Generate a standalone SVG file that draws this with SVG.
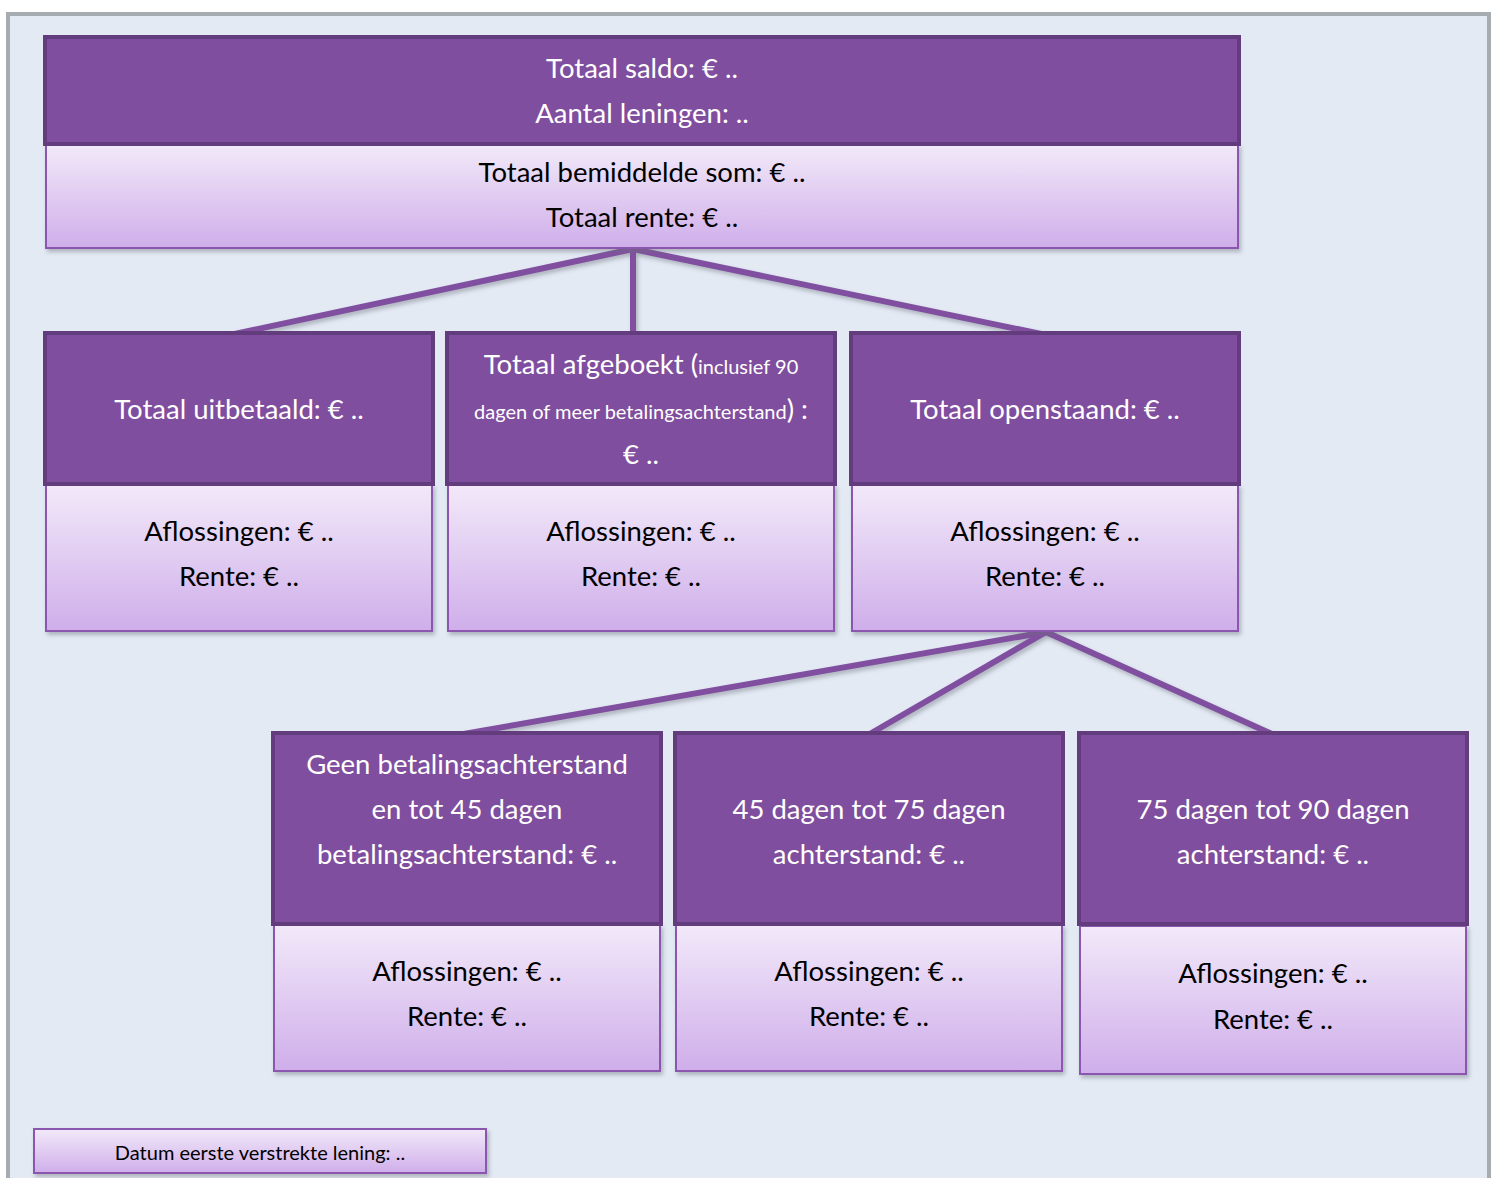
<svg xmlns="http://www.w3.org/2000/svg" width="1492" height="1178" viewBox="0 0 1492 1178">
<defs>
<linearGradient id="lg" x1="0" y1="0" x2="0" y2="1">
<stop offset="0" stop-color="#f2e9f9"/>
<stop offset="1" stop-color="#cfaeea"/>
</linearGradient>
<filter id="sh" x="-5%" y="-5%" width="110%" height="120%">
<feDropShadow dx="2" dy="3" stdDeviation="2" flood-color="#6b6f78" flood-opacity="0.45"/>
</filter>
<style>
.dk{fill:#804e9e;stroke:#633c7d;stroke-width:4}
.lt{fill:url(#lg);stroke:#8b56ae;stroke-width:2}
.tw{fill:#ffffff;font-family:Lato,"Open Sans",sans-serif;font-size:27.5px;text-anchor:middle}
.tb{fill:#000000;font-family:Lato,"Open Sans",sans-serif;font-size:27.5px;text-anchor:middle}
.sm{font-size:20px}
.con{stroke:#8150a0;stroke-width:6;fill:none;stroke-linecap:butt}
</style>
</defs>
<rect x="8" y="14" width="1481" height="1200" fill="#e3eaf4" stroke="#a7acb1" stroke-width="4"/>
<g id="connectors" filter="url(#sh)">
<line class="con" x1="633" y1="249" x2="230" y2="335"/>
<line class="con" x1="633" y1="249" x2="633" y2="333"/>
<line class="con" x1="633" y1="249" x2="1046" y2="335"/>
<line class="con" x1="1046" y1="632" x2="458" y2="735"/>
<line class="con" x1="1046" y1="632" x2="868" y2="735"/>
<line class="con" x1="1046" y1="632" x2="1274" y2="735"/>
</g>
<g id="top">
<rect class="lt" x="46" y="145" width="1192" height="103" filter="url(#sh)"/>
<rect class="dk" x="45" y="37" width="1194" height="107"/>
<text class="tw" x="642" y="78">Totaal saldo: € ..</text>
<text class="tw" x="642" y="123">Aantal leningen: ..</text>
<text class="tb" x="642" y="182">Totaal bemiddelde som: € ..</text>
<text class="tb" x="642" y="227">Totaal rente: € ..</text>
</g>
<g id="uitbetaald">
<rect class="lt" x="46" y="485" width="386" height="146" filter="url(#sh)"/>
<rect class="dk" x="45" y="333" width="388" height="151"/>
<text class="tw" x="239" y="419">Totaal uitbetaald: € ..</text>
<text class="tb" x="239" y="541">Aflossingen: € ..</text>
<text class="tb" x="239" y="586">Rente: € ..</text>
</g>
<g id="afgeboekt">
<rect class="lt" x="448" y="485" width="386" height="146" filter="url(#sh)"/>
<rect class="dk" x="447" y="333" width="388" height="151"/>
<text class="tw" x="641" y="374">Totaal afgeboekt (<tspan class="sm">inclusief 90</tspan></text>
<text class="tw" x="641" y="419"><tspan class="sm">dagen of meer betalingsachterstand</tspan>) :</text>
<text class="tw" x="641" y="464">€ ..</text>
<text class="tb" x="641" y="541">Aflossingen: € ..</text>
<text class="tb" x="641" y="586">Rente: € ..</text>
</g>
<g id="openstaand">
<rect class="lt" x="852" y="485" width="386" height="146" filter="url(#sh)"/>
<rect class="dk" x="851" y="333" width="388" height="151"/>
<text class="tw" x="1045" y="419">Totaal openstaand: € ..</text>
<text class="tb" x="1045" y="541">Aflossingen: € ..</text>
<text class="tb" x="1045" y="586">Rente: € ..</text>
</g>
<g id="geen">
<rect class="lt" x="274" y="925" width="386" height="146" filter="url(#sh)"/>
<rect class="dk" x="273" y="733" width="388" height="191"/>
<text class="tw" x="467" y="774">Geen betalingsachterstand</text>
<text class="tw" x="467" y="819">en tot 45 dagen</text>
<text class="tw" x="467" y="864">betalingsachterstand: € ..</text>
<text class="tb" x="467" y="981">Aflossingen: € ..</text>
<text class="tb" x="467" y="1026">Rente: € ..</text>
</g>
<g id="d45">
<rect class="lt" x="676" y="925" width="386" height="146" filter="url(#sh)"/>
<rect class="dk" x="675" y="733" width="388" height="191"/>
<text class="tw" x="869" y="819">45 dagen tot 75 dagen</text>
<text class="tw" x="869" y="864">achterstand: € ..</text>
<text class="tb" x="869" y="981">Aflossingen: € ..</text>
<text class="tb" x="869" y="1026">Rente: € ..</text>
</g>
<g id="d75">
<rect class="lt" x="1080" y="926" width="386" height="148" filter="url(#sh)"/>
<rect class="dk" x="1079" y="733" width="388" height="191"/>
<text class="tw" x="1273" y="819">75 dagen tot 90 dagen</text>
<text class="tw" x="1273" y="864">achterstand: € ..</text>
<text class="tb" x="1273" y="983">Aflossingen: € ..</text>
<text class="tb" x="1273" y="1029">Rente: € ..</text>
</g>
<g id="datum">
<rect class="lt" x="34" y="1129" width="452" height="44" filter="url(#sh)"/>
<text class="tb" x="260" y="1160" style="font-size:20px">Datum eerste verstrekte lening: ..</text>
</g>
</svg>
